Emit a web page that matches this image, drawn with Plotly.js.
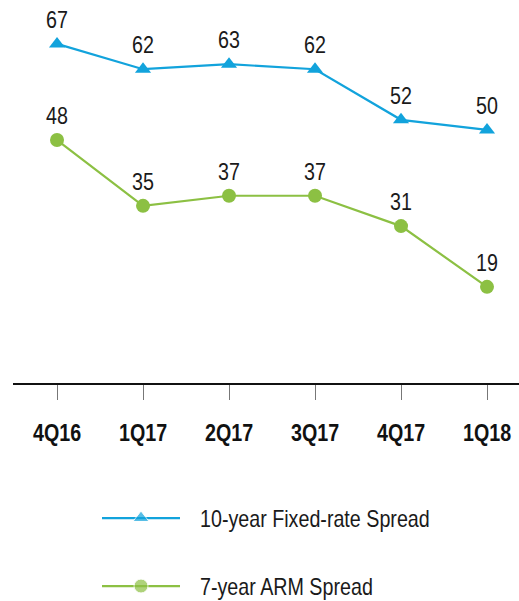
<!DOCTYPE html>
<html>
<head>
<meta charset="utf-8">
<script src="https://cdn.plot.ly/plotly-3.0.1.min.js"></script>
<style>html,body{margin:0;padding:0;background:#fff;}#chart{width:519px;height:601px;}</style>
</head>
<body>
<div id="chart"></div>
<script>
var categories = ["4Q16", "1Q17", "2Q17", "3Q17", "4Q17", "1Q18"];
var fixedSpread = [67, 62, 63, 62, 52, 50];
var armSpread = [48, 35, 37, 37, 31, 19];
var seriesNames = ["10-year Fixed-rate Spread", "7-year ARM Spread"];

var FONT = '"Liberation Sans", Arial, sans-serif';
var BLUE = '#12A3DC';
var GREEN = '#8CC043';
var idx = categories.map(function (c, i) { return i; });

var traces = [
  {
    x: idx, y: fixedSpread, type: 'scatter', mode: 'lines+markers+text',
    text: fixedSpread.map(String), textposition: 'top center',
    textfont: {family: FONT, size: 24, color: '#1a1a1a'},
    line: {color: BLUE, width: 2.2},
    marker: {symbol: 'triangle-up', size: 14, color: BLUE},
    cliponaxis: false, showlegend: false, hoverinfo: 'none'
  },
  {
    x: idx, y: armSpread, type: 'scatter', mode: 'lines+markers+text',
    text: armSpread.map(String), textposition: 'top center',
    textfont: {family: FONT, size: 24, color: '#1a1a1a'},
    line: {color: GREEN, width: 2.2},
    marker: {symbol: 'circle', size: 14, color: GREEN},
    cliponaxis: false, showlegend: false, hoverinfo: 'none'
  },
  // custom legend samples
  {
    x: [102, 141, 180], y: [1, 1, 1], xaxis: 'x2', yaxis: 'y2',
    type: 'scatter', mode: 'lines+markers',
    line: {color: BLUE, width: 2.2},
    marker: {symbol: 'triangle-up', size: [0, 14, 0], color: BLUE},
    showlegend: false, hoverinfo: 'none'
  },
  {
    x: [102, 141, 180], y: [0, 0, 0], xaxis: 'x2', yaxis: 'y2',
    type: 'scatter', mode: 'lines+markers',
    line: {color: GREEN, width: 2.2},
    marker: {symbol: 'circle', size: [0, 14, 0], color: GREEN},
    showlegend: false, hoverinfo: 'none'
  }
];

var layout = {
  width: 519, height: 601,
  margin: {l: 13, r: 0, t: 10, b: 0},
  paper_bgcolor: '#fff', plot_bgcolor: 'rgba(0,0,0,0)',
  showlegend: false,
  xaxis: {
    range: [-0.512, 5.372],
    tickvals: idx, ticktext: categories,
    showgrid: false, zeroline: false,
    showline: true, linecolor: '#111', linewidth: 2.5,
    ticks: 'outside', ticklen: 15, tickcolor: '#777', tickwidth: 1,
    ticklabelstandoff: 12,
    tickfont: {family: FONT, size: 24, color: '#111', weight: 'bold'},
    anchor: 'y', fixedrange: true
  },
  yaxis: {
    domain: [0.3689, 1],
    range: [0, 73.7],
    visible: false, showgrid: false, zeroline: false, fixedrange: true
  },
  xaxis2: {
    domain: [0, 1], range: [13, 519], anchor: 'y2',
    visible: false, showgrid: false, zeroline: false
  },
  yaxis2: {
    domain: [0, 0.2], range: [-0.22, 1.518], anchor: 'x2',
    visible: false, showgrid: false, zeroline: false
  },
  annotations: [
    {x: 198, y: 1, xref: 'x2', yref: 'y2', xanchor: 'left', yanchor: 'middle', align: 'left',
     text: seriesNames[0], showarrow: false, font: {family: FONT, size: 24, color: '#1a1a1a'}},
    {x: 198, y: 0, xref: 'x2', yref: 'y2', xanchor: 'left', yanchor: 'middle', align: 'left',
     text: seriesNames[1], showarrow: false, font: {family: FONT, size: 24, color: '#1a1a1a'}}
  ]
};

function condense() {
  var sel = document.querySelectorAll('#chart .textpoint text, #chart .xtick text, #chart .annotation-text');
  sel.forEach(function (el) {
    if (el.getAttribute('data-condensed')) return;
    var w = el.getComputedTextLength();
    if (w > 0) {
      el.setAttribute('textLength', (w * 0.82).toFixed(2));
      el.setAttribute('lengthAdjust', 'spacingAndGlyphs');
      el.setAttribute('data-condensed', '1');
    }
  });
}

Plotly.newPlot('chart', traces, layout, {displayModeBar: false, staticPlot: true}).then(condense);
</script>
</body>
</html>
